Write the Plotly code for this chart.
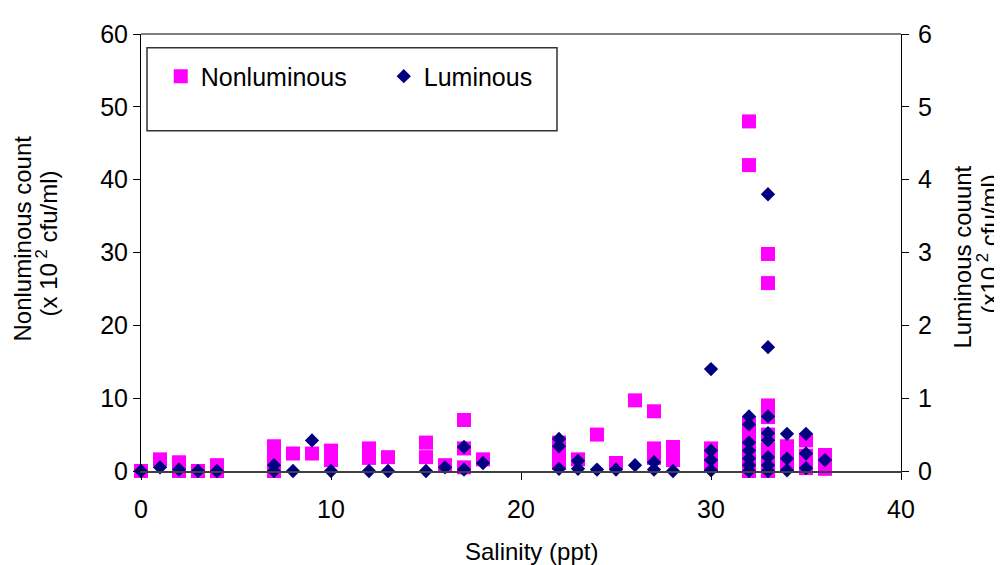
import plotly.graph_objects as go

# Nonluminous counts (x10^2 cfu/ml) vs salinity (ppt)
nonlum_salinity = [0, 1, 2, 2, 3, 4, 4, 7, 7, 7, 7, 8, 9, 10, 10, 12, 12, 13, 15, 15, 16,
                   17, 17, 17, 18, 22, 22, 22, 23, 24, 25, 26, 27, 27, 27, 28, 28,
                   30, 30, 30, 32, 32, 32, 32, 32, 32, 32, 32,
                   33, 33, 33, 33, 33, 33, 33, 33, 34, 34, 34, 35, 35, 35, 36, 36]
nonlum_count = [0, 1.6, 1.2, 0, 0, 0.8, 0, 3.4, 2.0, 0.5, 0, 2.4, 2.4, 2.8, 1.5, 3.1, 1.8, 1.9, 3.9, 1.9, 0.8,
                7.0, 3.1, 0.5, 1.6, 3.9, 2.1, 1.1, 1.6, 5.0, 1.1, 9.7, 8.2, 3.1, 1.8, 3.3, 1.5,
                3.1, 1.8, 0.8, 48, 42, 6.6, 5.0, 3.5, 2.0, 0.5, 0,
                29.8, 25.8, 9.0, 7.4, 5.0, 3.0, 1.5, 0, 3.4, 2.0, 0.7, 4.2, 2.1, 0.4, 2.2, 0.3]

# Luminous counts (x10^2 cfu/ml) vs salinity (ppt)
lum_salinity = [0, 1, 2, 3, 4, 7, 7, 8, 9, 10, 12, 13, 15, 16, 17, 17, 18,
                22, 22, 22, 23, 23, 24, 25, 26, 27, 27, 28,
                30, 30, 30, 30, 32, 32, 32, 32, 32, 32, 32,
                33, 33, 33, 33, 33, 33, 33, 33, 34, 34, 34, 35, 35, 35, 36]
lum_count = [0, 0.05, 0.02, 0, 0, 0.08, 0, 0, 0.42, 0, 0, 0, 0, 0.05, 0.33, 0.02, 0.11,
             0.44, 0.34, 0.03, 0.14, 0.03, 0.02, 0.02, 0.08, 0.12, 0.02, 0.0,
             1.4, 0.28, 0.15, 0.01, 0.75, 0.64, 0.39, 0.28, 0.17, 0.08, 0,
             3.8, 1.7, 0.75, 0.52, 0.42, 0.19, 0.08, 0, 0.51, 0.17, 0.01, 0.51, 0.24, 0.04, 0.15]

x_ticks = [0, 10, 20, 30, 40]
y_ticks = [0, 10, 20, 30, 40, 50, 60]
y2_ticks = [0, 1, 2, 3, 4, 5, 6]

FONT = "Liberation Sans, Arial, sans-serif"
FS = 24
TFS = 25

# page has an 8px body margin: figure origin sits at (8, 8) in the window
fig = go.Figure()
fig.add_trace(go.Scatter(
    x=nonlum_salinity, y=nonlum_count, mode="markers", name="Nonluminous",
    marker=dict(symbol="square", size=14, color="#FF00FF", line=dict(width=0)),
    cliponaxis=False, yaxis="y"))
fig.add_trace(go.Scatter(
    x=lum_salinity, y=lum_count, mode="markers", name="Luminous",
    marker=dict(symbol="diamond", size=11, color="#000080", line=dict(width=0)),
    cliponaxis=False, yaxis="y2"))

fig.update_layout(
    width=1002, height=565,
    margin=dict(l=133, r=109, t=16, b=102, pad=0),
    paper_bgcolor="white", plot_bgcolor="white",
    font=dict(family=FONT, size=FS, color="black"),
    showlegend=True,
    legend=dict(orientation="h", x=0.026, y=0.903, xanchor="left", yanchor="middle",
                bgcolor="rgba(0,0,0,0)", borderwidth=0,
                font=dict(size=25, family=FONT),
                entrywidth=178, entrywidthmode="pixels"),
    xaxis=dict(range=[0, 40], tickvals=x_ticks, showgrid=False, zeroline=False,
               showline=True, linecolor="#404040", linewidth=2,
               ticks="outside", ticklen=7, tickcolor="black", tickwidth=1,
               ticklabelstandoff=8, tickfont=dict(size=TFS)),
    yaxis=dict(range=[0, 60], tickvals=y_ticks, showgrid=False, zeroline=False,
               showline=True, linecolor="black", linewidth=1,
               ticks="outside", ticklen=7, tickcolor="black",
               tickfont=dict(size=TFS)),
    yaxis2=dict(range=[0, 6], tickvals=y2_ticks, overlaying="y", side="right",
                showgrid=False, zeroline=False, showline=True, linecolor="black",
                linewidth=1, ticks="outside", ticklen=7, tickcolor="black",
                ticklabelstandoff=4, tickfont=dict(size=TFS)),
    shapes=[
        dict(type="line", xref="paper", yref="paper", x0=0, x1=1, y0=1, y1=1,
             line=dict(color="black", width=1)),
        dict(type="rect", xref="paper", yref="paper",
             x0=(147 - 141) / 760, x1=(557 - 141) / 760,
             y0=(471 - 123) / 447, y1=(471 - 38) / 447,
             line=dict(color="#333333", width=1.5), fillcolor="rgba(0,0,0,0)", layer="above"),
    ],
    annotations=[
        dict(text="Nonluminous count", xref="paper", yref="paper",
             x=0, y=0.5, xanchor="center", yanchor="middle", xshift=-119, yshift=14,
             textangle=-90, showarrow=False, font=dict(size=FS)),
        dict(text="(x 10<sup> 2</sup> cfu/ml)", xref="paper", yref="paper",
             x=0, y=0.5, xanchor="center", yanchor="middle", xshift=-95, yshift=9,
             textangle=-90, showarrow=False, font=dict(size=FS)),
        dict(text="Luminous couunt", xref="paper", yref="paper",
             x=1, y=0.5, xanchor="center", yanchor="middle", xshift=61, yshift=-5,
             textangle=-90, showarrow=False, font=dict(size=FS)),
        dict(text="(x10<sup> 2</sup> cfu/ml)", xref="paper", yref="paper",
             x=1, y=0.5, xanchor="center", yanchor="middle", xshift=86, yshift=8,
             textangle=-90, showarrow=False, font=dict(size=FS)),
        dict(text="Salinity (ppt)", xref="paper", yref="paper",
             x=0.5, y=0, xanchor="center", yanchor="middle", xshift=10, yshift=-80,
             showarrow=False, font=dict(size=FS)),
    ],
)

fig.write_html("out.html")
